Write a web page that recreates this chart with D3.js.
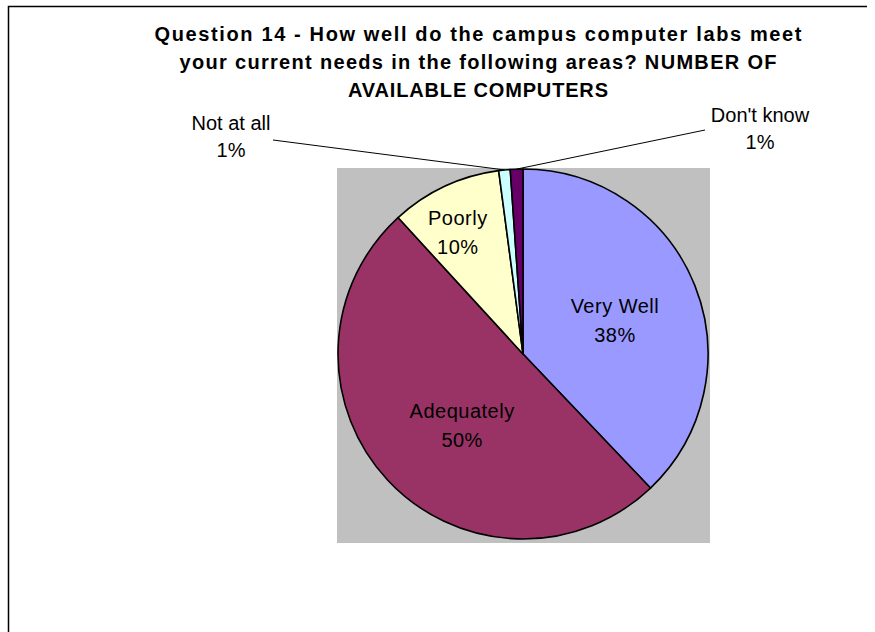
<!DOCTYPE html>
<html>
<head>
<meta charset="utf-8">
<script src="https://cdn.jsdelivr.net/npm/d3@7"></script>
<style>
  body { margin: 0; background: #fff; }
  svg text { font-family: "Liberation Sans", Arial, sans-serif; fill: #000; }
</style>
</head>
<body>
<svg id="chart" width="875" height="632"></svg>
<script>
// data (share of answers, %)
const categories = ["Very Well", "Adequately", "Poorly", "Not at all", "Don't know"];
const shares     = [37.9, 50.3, 9.7, 1.0, 1.1];
const colours    = ["#9999FF", "#993366", "#FFFFCC", "#CCFFFF", "#660066"];
const titleLines = [
  "Question 14 - How well do the campus computer labs meet",
  "your current needs in the following areas? NUMBER OF",
  "AVAILABLE COMPUTERS"
];

const svg = d3.select("#chart");

// frame (only top and left edge are in the picture)
svg.append("path")
  .attr("d", "M8.5,632 V6.5 H867")
  .attr("fill", "none")
  .attr("stroke", "#000")
  .attr("stroke-width", 1.5);

// grey plot area
const plot = {x: 337, y: 168, w: 373, h: 375};
svg.append("rect")
  .attr("x", plot.x).attr("y", plot.y)
  .attr("width", plot.w).attr("height", plot.h)
  .attr("fill", "#C0C0C0");

// title - excel spreads the letters out, so stretch each line to its width
const titleWidths = [647, 597, 260];
titleLines.forEach(function(t, i) {
  svg.append("text")
    .attr("x", 478)
    .attr("y", 41 + i * 28)
    .attr("text-anchor", "middle")
    .attr("font-weight", "bold")
    .attr("font-size", 20)
    .attr("textLength", titleWidths[i])
    .attr("lengthAdjust", "spacing")
    .text(t);
});

// pie
const cx = 523, cy = 354, R = 185;
const pie = d3.pie().sort(null).value(d => d.v)(
  categories.map((c, i) => ({name: c, v: shares[i], col: colours[i]}))
);
const total = d3.sum(shares);
const arc = d3.arc().innerRadius(0).outerRadius(R);

const g = svg.append("g").attr("transform", "translate(" + cx + "," + cy + ")");

g.selectAll("path.slice")
  .data(pie)
  .enter().append("path")
  .attr("class", "slice")
  .attr("d", arc)
  .attr("fill", d => d.data.col)
  .attr("stroke", "#000")
  .attr("stroke-width", 1.6)
  .attr("stroke-linejoin", "round");

// inside labels: radius and small angle nudge (deg) for each label
const insideR = [99, 91, 141];
const nudge = [0, -5, -2.5];
const pct = d => Math.round(d.data.v / total * 100) + "%";

pie.slice(0, 3).forEach(function(d, i) {
  const a = (d.startAngle + d.endAngle) / 2 + nudge[i] * Math.PI / 180;
  const p = [Math.sin(a) * insideR[i], -Math.cos(a) * insideR[i]];
  const t = g.append("text")
    .attr("text-anchor", "middle")
    .attr("font-size", 20)
    .attr("letter-spacing", 0.5);
  t.append("tspan").attr("x", p[0]).attr("y", p[1] - 4).text(d.data.name);
  t.append("tspan").attr("x", p[0]).attr("y", p[1] + 25).text(pct(d));
});

// outside labels with leader lines
const callouts = [
  {lx: 273 - cx, ly: 140 - cy, tx: 231 - cx, ty: 130 - cy},
  {lx: 705 - cx, ly: 130 - cy, tx: 760 - cx, ty: 122 - cy}
];
pie.slice(3).forEach(function(d, i) {
  const c = callouts[i];
  const edge = d3.arc().innerRadius(R).outerRadius(R).centroid(d);
  g.append("line")
    .attr("x1", edge[0]).attr("y1", edge[1])
    .attr("x2", c.lx).attr("y2", c.ly)
    .attr("stroke", "#000")
    .attr("stroke-width", 1);
  const t = g.append("text")
    .attr("text-anchor", "middle")
    .attr("font-size", 20);
  t.append("tspan").attr("x", c.tx).attr("y", c.ty).text(d.data.name);
  t.append("tspan").attr("x", c.tx).attr("y", c.ty + 27).text(pct(d));
});
</script>
</body>
</html>
